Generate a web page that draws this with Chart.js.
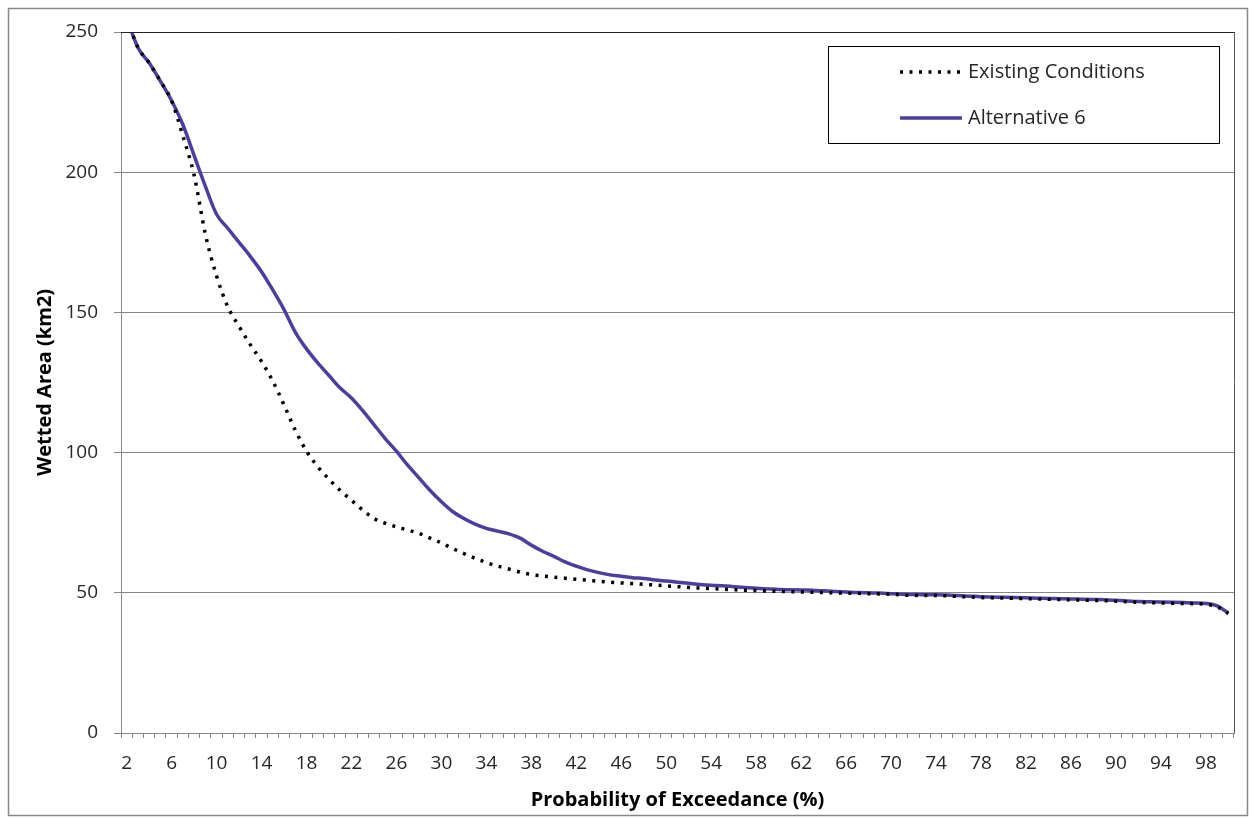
<!DOCTYPE html>
<html lang="en">
<head>
    <meta charset="UTF-8">
    <title>Wetted Area</title>
    <script src="https://cdn.jsdelivr.net/npm/chart.js"></script>
    <style>
        body { margin: 0; background: #fff; }
        .wrap { position: relative; width: 1250px; height: 818px; }
    </style>
</head>
<body>
    <div class="wrap">
        <canvas id="areaChart"></canvas>
    </div>
    <script>
    // probability of exceedance (%)
    const categories = [2, 3, 4, 5, 6, 7, 8, 9, 10, 11, 12, 13, 14, 15, 16, 17, 18, 19, 20,
        21, 22, 23, 24, 25, 26, 27, 28, 29, 30, 31, 32, 33, 34, 35, 36, 37, 38, 39, 40,
        41, 42, 43, 44, 45, 46, 47, 48, 49, 50, 51, 52, 53, 54, 55, 56, 57, 58, 59, 60,
        61, 62, 63, 64, 65, 66, 67, 68, 69, 70, 71, 72, 73, 74, 75, 76, 77, 78, 79, 80,
        81, 82, 83, 84, 85, 86, 87, 88, 89, 90, 91, 92, 93, 94, 95, 96, 97, 98, 99, 100];

    // wetted area (km2)
    const existingConditions = [255, 244.5, 239, 232.5, 225.5, 213, 199, 178, 163, 152,
        145, 138.5, 132.5, 125.5, 117, 108, 100.5, 95, 90.5, 86.5,
        83, 79.5, 76.5, 74.8, 73.5, 72.4, 71.2, 69.5, 67.8, 65.8,
        64, 62.3, 60.8, 59.5, 58.5, 57.4, 56.5, 56, 55.6, 55.2,
        54.8, 54.5, 54.1, 53.8, 53.5, 53.3, 53, 52.8, 52.5, 52.2,
        51.9, 51.7, 51.5, 51.3, 51.1, 50.9, 50.8, 50.6, 50.5, 50.4,
        50.3, 50.2, 50.1, 50, 49.9, 49.8, 49.7, 49.6, 49.5, 49.2,
        49.1, 49, 49, 48.9, 48.7, 48.5, 48.3, 48.2, 48.1, 48,
        47.9, 47.8, 47.7, 47.6, 47.5, 47.4, 47.3, 47.2, 47, 46.8,
        46.6, 46.5, 46.4, 46.3, 46.2, 46.1, 45.9, 45, 42.6];

    const alternative6 = [255, 244.5, 239, 232.5, 225.5, 217, 206, 195, 185, 180,
        175, 170, 164.5, 158, 151, 143, 137, 132, 127.5, 123,
        119.5, 115, 110, 105, 100.5, 95.5, 91, 86.5, 82.5, 79,
        76.5, 74.5, 73, 72, 71, 69.5, 67, 64.8, 63, 61,
        59.5, 58.2, 57.2, 56.4, 55.9, 55.4, 55.1, 54.6, 54.2, 53.8,
        53.4, 53, 52.7, 52.5, 52.2, 51.9, 51.6, 51.4, 51.2, 51.1,
        51, 50.9, 50.7, 50.5, 50.3, 50.1, 50, 49.9, 49.7, 49.5,
        49.4, 49.3, 49.3, 49.2, 49, 48.8, 48.6, 48.5, 48.4, 48.3,
        48.2, 48.1, 48, 47.9, 47.8, 47.7, 47.6, 47.5, 47.3, 47.1,
        46.9, 46.8, 46.7, 46.6, 46.5, 46.4, 46.2, 45.3, 42.8];

    const yTicks = [0, 50, 100, 150, 200, 250];

    const FONT = '"Open Sans", Lato, sans-serif';
    const AXIS_GREY = '#868686';

    // frame round the whole picture and the plot area border
    const frame = {
        id: 'frame',
        beforeDraw(chart) {
            const ctx = chart.ctx;
            ctx.save();
            ctx.fillStyle = '#fff';
            ctx.fillRect(0, 0, chart.width, chart.height);
            ctx.strokeStyle = AXIS_GREY;
            ctx.lineWidth = 1.5;
            ctx.strokeRect(8.5, 8.5, chart.width - 11, chart.height - 11);
            ctx.restore();
        },
        afterDraw(chart) {
            const a = chart.chartArea;
            const ctx = chart.ctx;
            ctx.save();
            ctx.lineWidth = 1;
            ctx.strokeStyle = '#222';
            ctx.beginPath();
            ctx.moveTo(a.left, a.top + 0.5);
            ctx.lineTo(a.right + 0.5, a.top + 0.5);
            ctx.stroke();
            ctx.strokeStyle = '#555';
            ctx.beginPath();
            ctx.moveTo(a.right + 0.5, a.top);
            ctx.lineTo(a.right + 0.5, a.bottom);
            ctx.stroke();
            ctx.restore();
        }
    };

    // legend box in the top right of the plot
    const legendBox = {
        id: 'legendBox',
        afterDraw(chart) {
            const ctx = chart.ctx;
            ctx.save();
            ctx.fillStyle = '#fff';
            ctx.fillRect(829, 47, 390, 96);
            ctx.strokeStyle = '#000';
            ctx.lineWidth = 1;
            ctx.strokeRect(828.5, 46.5, 391, 97);
            chart.data.datasets.forEach((ds, i) => {
                const y = 72 + i * 46;
                ctx.strokeStyle = ds.borderColor;
                ctx.lineWidth = ds.borderWidth;
                ctx.setLineDash(ds.borderDash || []);
                ctx.beginPath();
                ctx.moveTo(900, y);
                ctx.lineTo(962, y);
                ctx.stroke();
                ctx.setLineDash([]);
                ctx.fillStyle = '#262626';
                ctx.font = '20px ' + FONT;
                ctx.textBaseline = 'middle';
                ctx.fillText(ds.label, 968, y);
            });
            ctx.restore();
        }
    };

    const ctx = document.getElementById('areaChart').getContext('2d');
    const areaChart = new Chart(ctx, {
        type: 'line',
        data: {
            labels: categories.map(String),
            datasets: [
                {
                    label: 'Existing Conditions',
                    data: existingConditions,
                    borderColor: '#000000',
                    borderWidth: 3.5,
                    borderDash: [3, 6.5],
                    pointRadius: 0,
                    cubicInterpolationMode: 'monotone',
                    fill: false
                },
                {
                    label: 'Alternative 6',
                    data: alternative6,
                    borderColor: '#4F3D9E',
                    borderWidth: 3.5,
                    pointRadius: 0,
                    cubicInterpolationMode: 'monotone',
                    fill: false
                }
            ]
        },
        options: {
            responsive: true,
            maintainAspectRatio: false,
            animation: false,
            layout: {
                padding: { top: 32, right: 16, left: 0, bottom: 0 }
            },
            plugins: {
                legend: { display: false },
                tooltip: { enabled: false }
            },
            scales: {
                x: {
                    type: 'category',
                    offset: true,
                    afterFit(scale) { scale.height = 85; },
                    grid: {
                        offset: true,
                        drawOnChartArea: false,
                        tickLength: 5,
                        color: AXIS_GREY
                    },
                    border: { color: AXIS_GREY, width: 1 },
                    ticks: {
                        autoSkip: false,
                        maxRotation: 0,
                        padding: 14,
                        color: '#262626',
                        font: { family: FONT, size: 19 },
                        callback: function(value, index) {
                            return index % 4 === 0 ? this.getLabelForValue(value) : '';
                        }
                    },
                    title: {
                        display: true,
                        text: 'Probability of Exceedance (%)',
                        color: '#000',
                        font: { family: FONT, size: 20, weight: 'bold' },
                        padding: { top: 0, bottom: 6 }
                    }
                },
                y: {
                    min: 0,
                    max: 250,
                    afterFit(scale) { scale.width = 121; },
                    afterBuildTicks(scale) {
                        scale.ticks = yTicks.map(v => ({ value: v }));
                    },
                    grid: {
                        color: AXIS_GREY,
                        tickLength: 7
                    },
                    border: { color: AXIS_GREY, width: 1 },
                    ticks: {
                        padding: 16,
                        color: '#262626',
                        font: { family: FONT, size: 19 }
                    },
                    title: {
                        display: true,
                        text: 'Wetted Area (km2)',
                        color: '#000',
                        font: { family: FONT, size: 20, weight: 'bold' },
                        padding: { top: 33, bottom: 0 }
                    }
                }
            }
        },
        plugins: [frame, legendBox]
    });
    </script>
</body>
</html>
